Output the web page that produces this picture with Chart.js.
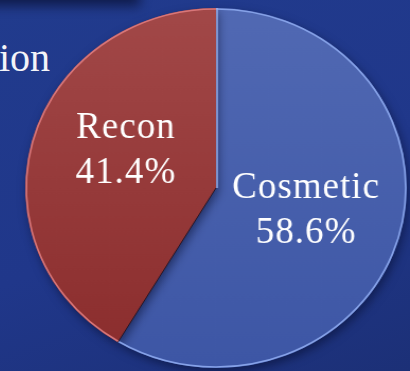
<!DOCTYPE html>
<html>
<head>
<meta charset="utf-8">
<script src="https://cdn.jsdelivr.net/npm/chart.js@4.4.1/dist/chart.umd.min.js"></script>
<style>
  html, body { margin: 0; padding: 0; }
  body {
    width: 410px; height: 371px; overflow: hidden; position: relative;
    background: linear-gradient(160deg, #213b8d 0%, #20378a 55%, #1c3077 100%);
  }
  /* dark shadow under the header strip */
  .topShade {
    position: absolute; left: -30px; top: -22px; width: 170px; height: 28px;
    background: #0c1640; filter: blur(6px); opacity: 0.85;
  }
  .heading {
    position: absolute; left: -1px; top: 34px;
    font-family: "Liberation Serif", serif; font-size: 40px; color: #f4f4f8;
    line-height: 48px;
  }
  .stretch {
    position: absolute; left: 0; top: 0; width: 410px; height: 371px;
    transform: scaleX(1.06); transform-origin: 216px 188px;
  }
  .box { position: absolute; left: 0; top: 0; width: 410px; height: 371px; }
</style>
</head>
<body>
<div class="topShade"></div>
<div class="heading">ion</div>
<div class="stretch"><div class="box"><canvas id="pieChart"></canvas></div></div>
<script>
// slices, clockwise from 12 o'clock
const categories = ['Cosmetic', 'Recon'];
const shares = [58.6, 41.4];

const topColors = ['#5169b3', '#a24848'];
const bottomColors = ['#3d56a5', '#8a2c2c'];
const rimColors = ['#86a2e8', '#d9777a'];
const STRETCH = 1.06;

function sliceFill(context) {
  const chart = context.chart;
  const area = chart.chartArea;
  const i = context.dataIndex;
  if (!area) return topColors[i];
  const g = chart.ctx.createLinearGradient(0, area.top, 0, area.bottom);
  g.addColorStop(0, topColors[i]);
  g.addColorStop(1, bottomColors[i]);
  return g;
}

// soft drop shadow behind the pie
const pieShadow = {
  id: 'pieShadow',
  beforeDatasetsDraw(chart) {
    const ctx = chart.ctx;
    ctx.save();
    ctx.shadowColor = 'rgba(5, 12, 45, 0.55)';
    ctx.shadowBlur = 10;
    ctx.shadowOffsetX = 2;
    ctx.shadowOffsetY = 4;
  },
  afterDatasetsDraw(chart) {
    chart.ctx.restore();
  }
};

// bevel: light rim on the outer edge, light/dark seams between slices
const pieRims = {
  id: 'pieRims',
  afterDatasetsDraw(chart) {
    const ctx = chart.ctx;
    const arcs = chart.getDatasetMeta(0).data;
    arcs.forEach((arc, i) => {
      const p = arc.getProps(['x', 'y', 'startAngle', 'endAngle', 'outerRadius'], true);
      ctx.save();
      ctx.strokeStyle = rimColors[i];
      ctx.lineWidth = 1.6;
      ctx.beginPath();
      ctx.arc(p.x, p.y, p.outerRadius - 1, p.startAngle, p.endAngle);
      ctx.stroke();
      ctx.restore();
    });
    // seams: light on the leading edge of the first slice, dark on the other
    const first = arcs[0].getProps(['x', 'y', 'startAngle', 'endAngle', 'outerRadius'], true);
    ctx.save();
    ctx.lineWidth = 1.4;
    ctx.strokeStyle = '#9fb6f0';
    ctx.beginPath();
    ctx.moveTo(first.x + 1, first.y);
    ctx.lineTo(first.x + 1 + Math.cos(first.startAngle) * first.outerRadius,
               first.y + Math.sin(first.startAngle) * first.outerRadius);
    ctx.stroke();
    ctx.strokeStyle = 'rgba(30, 15, 25, 0.8)';
    ctx.lineWidth = 1;
    ctx.beginPath();
    ctx.moveTo(first.x, first.y);
    ctx.lineTo(first.x + Math.cos(first.endAngle) * first.outerRadius,
               first.y + Math.sin(first.endAngle) * first.outerRadius);
    ctx.stroke();
    ctx.restore();
  }
};

// category name + percentage inside each slice
const sliceLabels = {
  id: 'sliceLabels',
  afterDraw(chart, args, opts) {
    const ctx = chart.ctx;
    const data = chart.data.datasets[0].data;
    const total = data.reduce((a, b) => a + b, 0);
    const meta = chart.getDatasetMeta(0);
    meta.data.forEach((arc, i) => {
      const p = arc.getProps(['x', 'y', 'startAngle', 'endAngle', 'outerRadius'], true);
      const mid = (p.startAngle + p.endAngle) / 2;
      const r = p.outerRadius * opts.radial;
      const x = p.x + Math.cos(mid) * r;
      const y = p.y + Math.sin(mid) * r + opts.nudgeY[i];
      const pct = (data[i] / total * 100).toFixed(1) + '%';
      ctx.save();
      ctx.translate(x, y);
      ctx.scale(1 / STRETCH, 1);
      ctx.fillStyle = '#ffffff';
      ctx.font = '37px "Liberation Serif", serif';
      ctx.letterSpacing = '1px';
      ctx.textAlign = 'center';
      ctx.textBaseline = 'alphabetic';
      ctx.fillText(chart.data.labels[i], 0, -10);
      ctx.fillText(pct, 0, 35);
      ctx.restore();
    });
  }
};

new Chart(document.getElementById('pieChart'), {
  type: 'pie',
  data: {
    labels: categories,
    datasets: [{
      data: shares,
      backgroundColor: sliceFill,
      borderWidth: 0,
      radius: 180
    }]
  },
  options: {
    responsive: true,
    maintainAspectRatio: false,
    animation: false,
    layout: { padding: { left: 36, right: 14, top: 8, bottom: 3 } },
    plugins: {
      legend: { display: false },
      tooltip: { enabled: false },
      sliceLabels: { radial: 0.49, nudgeY: [-4, -16] }
    }
  },
  plugins: [pieShadow, pieRims, sliceLabels]
});
</script>
</body>
</html>
